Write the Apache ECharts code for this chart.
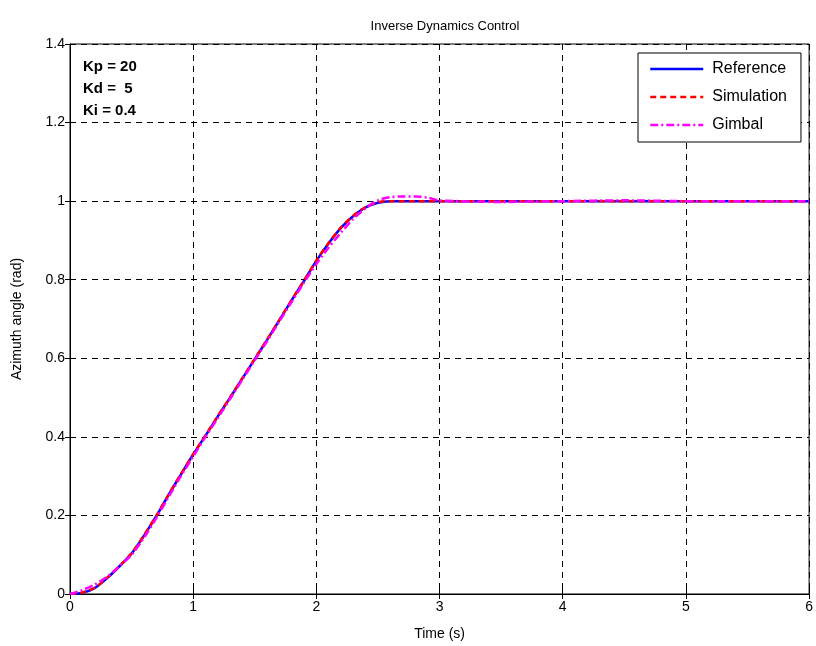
<!DOCTYPE html>
<html>
<head>
<meta charset="utf-8">
<script src="https://cdn.jsdelivr.net/npm/echarts@6/dist/echarts.min.js"></script>
<style>html,body{margin:0;padding:0;background:#fff;}#c{width:816px;height:646px;}</style>
</head>
<body>
<div id="c"></div>
<script>
const time = [0,0.1,0.2,0.3,0.4,0.5,0.6,0.7,0.8,0.9,1.0,1.1,1.2,1.3,1.4,1.5,1.6,1.7,1.8,1.9,2.0,2.1,2.2,2.3,2.4,2.5,2.6,2.7,2.8,2.9,3.0,3.5,4.0,4.5,5.0,5.5,6.0];
const reference = [0,0.003,0.015,0.04,0.07,0.103,0.148,0.198,0.252,0.304,0.355,0.403,0.452,0.5,0.549,0.598,0.647,0.697,0.748,0.797,0.848,0.893,0.932,0.962,0.984,0.996,1.0,1.0,1.0,1.0,1.0,1,1,1,1,1,1];
const simulation = [0,0.004,0.016,0.041,0.071,0.104,0.149,0.199,0.253,0.305,0.356,0.404,0.453,0.501,0.55,0.599,0.648,0.698,0.749,0.798,0.849,0.894,0.933,0.963,0.985,0.997,1.0,1.0,1.0,1.0,1.0,1,1,1,1,1,1];
const gimbal = [0,0.01,0.024,0.044,0.07,0.1,0.143,0.193,0.247,0.3,0.35,0.4,0.448,0.497,0.546,0.595,0.644,0.694,0.744,0.793,0.84,0.882,0.92,0.955,0.982,1.002,1.01,1.012,1.012,1.009,1.002,0.998,1.0,1.002,1.0,1.0,1.0];
const seriesNames = ['Reference','Simulation','Gimbal'];
const gainLines = ['Kp = 20','Kd =  5','Ki = 0.4'];
const titleText = 'Inverse Dynamics Control';
const xName = 'Time (s)';
const yName = 'Azimuth angle (rad)';

const pairs = arr => time.map((t,i)=>[t,arr[i]]);
const FONT = 'Liberation Sans, Arial, sans-serif';
const chart = echarts.init(document.getElementById('c'), null, {renderer:'canvas'});
const gridLine = {show:true, lineStyle:{color:'#000', type:[6,5], width:1}};
chart.setOption({
  animation:false,
  backgroundColor:'#fff',
  title:{text:titleText, left:440, top:15, textAlign:'center',
    textStyle:{fontFamily:FONT, fontSize:13, fontWeight:'normal', color:'#000'}},
  grid:{left:70, right:6, top:44, bottom:46, show:true, borderColor:'#000', borderWidth:1},
  legend:{
    data:seriesNames, orient:'vertical', left:638, top:53,
    padding:[8,14,9,11], itemGap:12, itemWidth:53, itemHeight:14,
    backgroundColor:'#fff', borderColor:'#000', borderWidth:1, borderRadius:0,
    itemStyle:{opacity:0}, lineStyle:{width:2.5},
    textStyle:{fontFamily:FONT, fontSize:16, color:'#000', padding:[0,0,0,4]}
  },
  graphic:[{type:'text', left:83, top:56, style:{text:gainLines.join('\n'), fontFamily:FONT, fontSize:15, fontWeight:'bold', lineHeight:22, fill:'#000'}}],
  xAxis:[{type:'value', min:0, max:6, interval:1, name:xName, nameLocation:'middle', nameGap:33,
    nameTextStyle:{fontFamily:FONT, fontSize:14, color:'#000'},
    axisLine:{show:true, lineStyle:{color:'#000'}}, axisTick:{show:true, inside:true, length:5, lineStyle:{color:'#000'}},
    axisLabel:{fontFamily:FONT, fontSize:14, color:'#000', margin:6}, splitLine:gridLine},
    {type:'value', position:'top', min:0, max:6, interval:1, axisLine:{show:true, lineStyle:{color:'#000'}},
    axisTick:{show:true, inside:true, length:5, lineStyle:{color:'#000'}}, axisLabel:{show:false}, splitLine:{show:false}}],
  yAxis:[{type:'value', min:0, max:1.4, interval:0.2, name:yName, nameLocation:'middle', nameGap:46,
    nameTextStyle:{fontFamily:FONT, fontSize:14, color:'#000'},
    axisLine:{show:true, lineStyle:{color:'#000'}}, axisTick:{show:true, inside:true, length:5, lineStyle:{color:'#000'}},
    axisLabel:{fontFamily:FONT, fontSize:14, color:'#000', margin:5, formatter:v=>String(+v.toFixed(1))}, splitLine:gridLine},
    {type:'value', position:'right', min:0, max:1.4, interval:0.2, axisLine:{show:true, lineStyle:{color:'#000'}},
    axisTick:{show:true, inside:true, length:5, lineStyle:{color:'#000'}}, axisLabel:{show:false}, splitLine:{show:false}}],
  series:[
    {name:seriesNames[0], type:'line', data:pairs(reference), symbol:'none', smooth:0.3, color:'#0000ff', lineStyle:{color:'#0000ff', width:2.5, type:'solid'}},
    {name:seriesNames[1], type:'line', data:pairs(simulation), symbol:'none', smooth:0.3, color:'#ff0000', lineStyle:{color:'#ff0000', width:2.5, type:[6,4]}},
    {name:seriesNames[2], type:'line', data:pairs(gimbal), symbol:'none', smooth:0.3, color:'#ff00ff', lineStyle:{color:'#ff00ff', width:2.5, type:[8,3,2,3]}}
  ]
});
</script>
</body>
</html>
